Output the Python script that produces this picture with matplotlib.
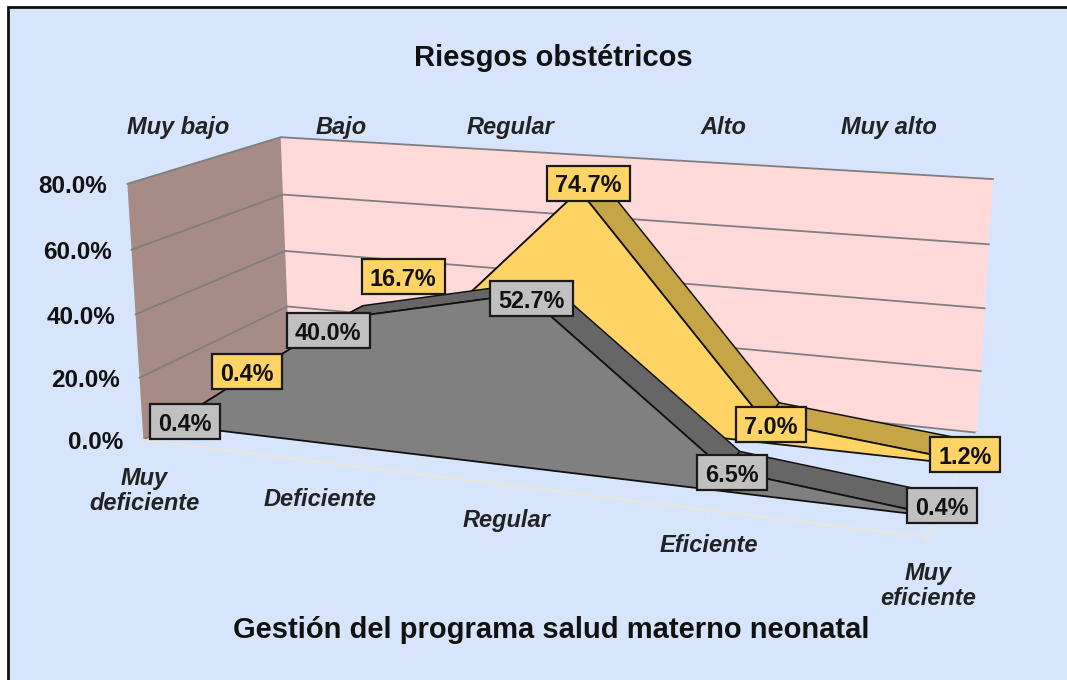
import numpy as np
import matplotlib
matplotlib.use("Agg")
import matplotlib.pyplot as plt
from matplotlib.patches import Polygon, Rectangle

plt.rcParams['font.family'] = ['Liberation Sans', 'DejaVu Sans']

# ---- data ----
title = "Riesgos obstétricos"
x_title = "Gestión del programa salud materno neonatal"
categories = ["Muy\ndeficiente", "Deficiente", "Regular", "Eficiente", "Muy\neficiente"]
depth_labels = ["Muy bajo", "Bajo", "Regular", "Alto", "Muy alto"]
value_ticks = [0, 20, 40, 60, 80]
grey_values = [0.4, 40.0, 52.7, 6.5, 0.4]
yellow_values = [0.4, 16.7, 74.7, 7.0, 1.2]

# ---- view: perspective fitted to the wall corners (u, depth, value) -> pixel ----
VMAX = 80.0
anchors = [((0, 0, 0), (144, 441)), ((0, 0, 80), (127, 183)),
           ((0, 1, 0), (289, 360)), ((0, 1, 80), (281, 138)),
           ((1, 1, 0), (977, 433)), ((1, 1, 80), (993, 179)),
           ((1, 0, 0), (928, 537))]
rows = []
for (u, d, v), (px, py) in anchors:
    X = [u, d, v / VMAX, 1]
    rows.append(X + [0, 0, 0, 0] + [-px * c for c in X])
    rows.append([0, 0, 0, 0] + X + [-py * c for c in X])
P = np.linalg.svd(np.array(rows, float))[2][-1].reshape(3, 4)


def proj(u, d, v):
    q = P @ np.array([u, d, v / VMAX, 1.0])
    return q[0] / q[2], q[1] / q[2]


fig = plt.figure(figsize=(10.67, 6.8), dpi=100, facecolor='white')
ax = fig.add_axes([0, 0, 1, 1])
ax.set_xlim(0, 1067)
ax.set_ylim(680, 0)
ax.axis('off')

BG = '#D6E5FC'
ax.add_patch(Rectangle((8, 7), 1070, 690, fc=BG, ec='#111111', lw=2, zorder=0))

# walls
ax.add_patch(Polygon([proj(0, 1, 0), proj(1, 1, 0), proj(1, 1, VMAX), proj(0, 1, VMAX)],
                     fc='#FFDAD9', ec='none', zorder=1))
ax.add_patch(Polygon([proj(0, 0, 0), proj(0, 1, 0), proj(0, 1, VMAX), proj(0, 0, VMAX)],
                     fc='#A68B86', ec='none', zorder=1))
for t in value_ticks:
    pts = [proj(0, 0, t), proj(0, 1, t), proj(1, 1, t)]
    ax.plot(*zip(*pts), color='#7F7F7F', lw=1.3, zorder=2)

# floor edge with category ticks
FLOOR = '#E9E5DA'
ax.plot(*zip(*[proj(0, 0, 0), proj(1, 0, 0), proj(1, 1, 0)]), color=FLOOR, lw=1.5, zorder=2)
n = len(categories)
for i in range(n):
    a = proj(i / (n - 1), 0, 0)
    ax.plot([a[0], a[0] - 1], [a[1], a[1] + 6], color=FLOOR, lw=1.2, zorder=2)


def draw_series(vals, d0, d1, face, top, z):
    m = len(vals)
    for i in range(m - 1):
        u0, u1 = i / (m - 1), (i + 1) / (m - 1)
        quad = [proj(u0, d0, vals[i]), proj(u1, d0, vals[i + 1]),
                proj(u1, d1, vals[i + 1]), proj(u0, d1, vals[i])]
        ax.add_patch(Polygon(quad, fc=top, ec='#111111', lw=1.1, zorder=z))
    outline = [proj(i / (m - 1), d0, vals[i]) for i in range(m)]
    outline += [proj(1, d0, 0), proj(0, d0, 0)]
    ax.add_patch(Polygon(outline, fc=face, ec='#111111', lw=1.3, zorder=z + 0.5))


YELLOW, GREY = '#FFD465', '#808080'
draw_series(yellow_values, 0.66, 0.87, YELLOW, '#C6A546', 3)
draw_series(grey_values, 0.17, 0.35, GREY, '#666666', 4)


def labels(vals, d, fc, offsets):
    m = len(vals)
    for i, v in enumerate(vals):
        x, y = proj(i / (m - 1), d, v)
        cx, cy = x + offsets[i][0], y + offsets[i][1]
        s = f"{v:.1f}%"
        w = 83 if len(s) == 5 else 70
        ax.add_patch(Rectangle((cx - w / 2, cy - 17.5), w, 35, fc=fc, ec='#1A1A1A', lw=1.6, zorder=5.9))
        ax.text(cx, cy, s, ha='center', va='center_baseline', fontsize=16.8, fontweight='bold',
                color='#111111', zorder=6)


labels(grey_values, 0.17, '#C0C0C0', [(14, -2), (-10, 12), (6, 5), (7, 3), (4, -10)])
labels(yellow_values, 0.72, YELLOW, [(-6, -8), (-9, -73), (3, -4), (2, 9), (0, 0)])

# value tick labels
for t in value_ticks:
    x, y = proj(0, 0, t)
    ax.text(x - 20, y + 3, f"{t:.1f}%", ha='right', va='center', fontsize=17.5,
            fontweight='bold', color='#111111')

# category and depth labels
cat_xy = [(144, 491), (320, 499), (507, 521), (709, 546), (928, 586)]
for lab, (x, y) in zip(categories, cat_xy):
    ax.text(x, y, lab, ha='center', va='center', fontsize=17, fontstyle='italic',
            fontweight='bold', color='#222222', linespacing=1.12)
depth_x = [178, 341, 511, 723, 889]
for lab, x in zip(depth_labels, depth_x):
    ax.text(x, 134, lab, ha='center', va='baseline', fontsize=17, fontstyle='italic',
            fontweight='bold', color='#222222')

ax.text(553, 66, title, ha='center', va='baseline', fontsize=21, fontweight='bold', color='#111111')
ax.text(551, 638, x_title, ha='center', va='baseline', fontsize=21, fontweight='bold', color='#111111')

fig.savefig('out.png', dpi=100, facecolor='white')
